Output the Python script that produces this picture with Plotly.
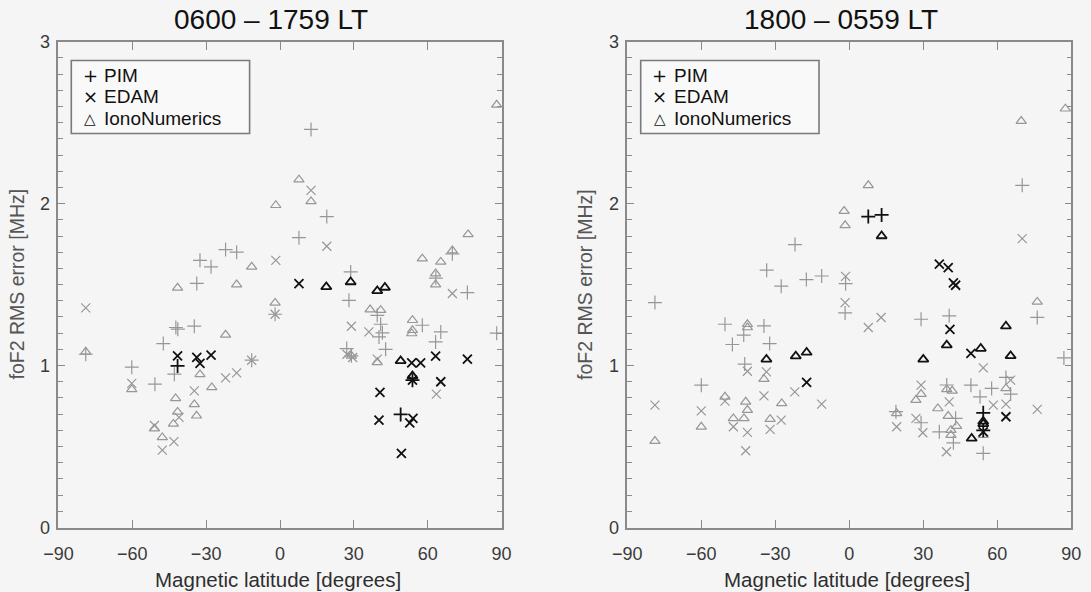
import plotly.graph_objects as go

# ---------------- data: (magnetic latitude [deg], foF2 RMS error [MHz]) ----------------
# Left panel: 0600 - 1759 LT
day_pim_gray_lat = [-78.9, -60.2, -50.8, -47.4, -42.3, -41.5, -42.9, -34.8, -33.8, -32.5, -28.0, -22.1, -17.6, -11.5,
                    -2.0, 7.7, 12.6, 19.0, 28.7, 28.0, 27.1, 29.0, 39.5, 40.9, 41.6, 40.2, 42.9, 57.8, 63.3, 63.2,
                    65.3, 70.0, 76.1, 88.0]
day_pim_gray_err = [1.07, 0.99, 0.885, 1.136, 1.235, 1.225, 0.947, 1.243, 1.507, 1.65, 1.61, 1.716, 1.70, 1.033,
                    1.317, 1.79, 2.458, 1.92, 1.578, 1.403, 1.105, 1.06, 1.31, 1.255, 1.202, 1.177, 1.10, 1.249, 1.54,
                    1.146, 1.208, 1.69, 1.451, 1.20]
day_edam_gray_lat = [-78.9, -60.2, -51.0, -47.8, -43.1, -41.0, -34.8, -22.1, -17.6, -11.5, -2.0, -1.7, 12.6, 19.0,
                     27.2, 29.5, 29.0, 36.1, 39.5, 63.5, 70.0]
day_edam_gray_err = [1.356, 0.89, 0.63, 0.478, 0.53, 0.68, 0.844, 0.924, 0.955, 1.033, 1.317, 1.65, 2.082, 1.737,
                     1.07, 1.05, 1.243, 1.208, 1.04, 0.824, 1.445]
day_iono_gray_lat = [-78.9, -60.2, -51.0, -47.8, -43.3, -42.4, -41.6, -41.6, -34.8, -33.9, -32.5, -27.7, -22.1, -17.6,
                     -11.5, -2.0, -1.7, 7.7, 12.6, 36.6, 40.9, 39.5, 53.8, 53.8, 53.5, 57.8, 63.2, 63.2, 65.3, 70.0,
                     76.4, 88.0, 29.0]
day_iono_gray_err = [1.085, 0.853, 0.61, 0.556, 0.64, 0.797, 0.714, 1.48, 0.76, 0.69, 0.945, 0.865, 1.19, 1.50,
                     1.61, 1.387, 1.99, 2.148, 2.014, 1.346, 1.342, 1.02, 1.28, 1.218, 1.198, 1.66, 1.568, 1.50, 1.64,
                     1.71, 1.81, 2.61, 1.06]
day_pim_black_lat = [-41.6, 49.0, 53.8]
day_pim_black_err = [0.998, 0.698, 0.91]
day_edam_black_lat = [-41.6, -33.8, -32.5, -28.0, 7.7, 53.5, 57.1, 63.2, 76.1, 53.8, 65.3, 40.6, 40.2, 54.0, 52.7, 49.3]
day_edam_black_err = [1.06, 1.05, 1.013, 1.064, 1.506, 1.017, 1.017, 1.058, 1.04, 0.91, 0.90, 0.834, 0.663, 0.674,
                      0.646, 0.458]
day_iono_black_lat = [18.8, 28.7, 39.5, 42.6, 49.0, 53.8]
day_iono_black_err = [1.486, 1.516, 1.461, 1.482, 1.029, 0.935]

# Right panel: 1800 - 0559 LT
night_pim_gray_lat = [-78.8, -60.0, -50.4, -47.4, -42.8, -42.4, -34.6, -33.5, -32.3, -27.6, -22.0, -17.4, -11.2, -1.5,
                      -1.7, 18.9, 29.1, 29.1, 36.5, 40.5, 39.5, 43.1, 42.2, 49.3, 53.0, 57.7, 63.5, 65.4, 54.3, 70.1,
                      76.2, 87.0]
night_pim_gray_err = [1.389, 0.879, 1.255, 1.13, 1.188, 1.009, 1.245, 1.589, 1.136, 1.49, 1.747, 1.531, 1.553, 1.506,
                      1.325, 0.715, 1.286, 0.647, 0.591, 1.307, 0.88, 0.674, 0.523, 0.879, 0.807, 0.859, 0.927, 0.824,
                      0.458, 2.113, 1.297, 1.047]
night_edam_gray_lat = [-78.8, -60.0, -50.4, -47.0, -42.0, -41.3, -41.3, -34.6, -33.6, -32.1, -27.6, -22.1, -11.2, -1.5,
                       -1.7, 7.7, 12.9, 19.2, 27.0, 29.1, 29.8, 39.4, 40.5, 54.3, 58.4, 63.5, 65.4, 70.1, 76.2]
night_edam_gray_err = [0.756, 0.72, 0.78, 0.622, 0.474, 0.587, 0.965, 0.813, 0.961, 0.606, 0.663, 0.838, 0.762, 1.551,
                       1.389, 1.235, 1.297, 0.622, 0.674, 0.879, 0.585, 0.468, 0.776, 0.986, 0.756, 0.762, 0.91,
                       1.784, 0.729]
night_iono_gray_lat = [-78.8, -60.0, -50.4, -47.0, -42.7, -42.0, -41.3, -41.3, -41.3, -34.6, -32.1, -27.4, -2.1, -1.7,
                       7.7, 19.2, 27.0, 29.1, 35.9, 39.5, 41.7, 40.1, 43.5, 41.2, 41.2, 54.3, 63.5, 69.7, 76.2, 87.6]
night_iono_gray_err = [0.534, 0.622, 0.807, 0.674, 0.674, 0.776, 0.725, 1.255, 1.235, 0.916, 0.669, 0.766, 1.954,
                       1.866, 2.113, 0.705, 0.787, 0.824, 0.735, 0.853, 0.844, 0.688, 0.626, 0.601, 0.571, 0.571,
                       0.859, 2.51, 1.393, 2.586]
night_pim_black_lat = [7.7, 13.1, 54.3, 54.3]
night_pim_black_err = [1.92, 1.93, 0.708, 0.60]
night_edam_black_lat = [36.5, 40.1, 42.2, 43.1, 40.8, 49.3, -17.3, 63.5, 54.3]
night_edam_black_err = [1.626, 1.605, 1.51, 1.496, 1.223, 1.075, 0.896, 0.684, 0.59]
night_iono_black_lat = [13.1, -33.6, -21.7, -17.3, 30.0, 39.5, 53.3, 63.5, 65.4, 54.3, 54.3, 49.6]
night_iono_black_err = [1.80, 1.038, 1.058, 1.081, 1.038, 1.126, 1.105, 1.243, 1.06, 0.655, 0.64, 0.55]

panel_titles = ["0600 \u2013 1759 LT", "1800 \u2013 0559 LT"]
series_names = ["PIM", "EDAM", "IonoNumerics"]
legend_glyphs = ["+", "\u00d7", "\u25b3"]

# ---------------- styling ----------------
GRAY = "#979797"
BLACK = "#111111"
AXIS = "#8a8a8a"
FONT = "Liberation Sans, Arial, Helvetica, sans-serif"
symbols = {"PIM": "cross-thin-open", "EDAM": "x-thin-open", "IonoNumerics": "triangle-up-open"}
sizes = {"PIM": 10, "EDAM": 9, "IonoNumerics": 9}

W, H = 1091, 592
y_dom = [1 - 527.5 / H, 1 - 41.7 / H]
x_doms = [[58.4 / W, 501.6 / W], [627.3 / W, 1071.3 / W]]

fig = go.Figure()

panels = [
    ("x", "y",
     {"PIM": (day_pim_gray_lat, day_pim_gray_err, day_pim_black_lat, day_pim_black_err),
      "EDAM": (day_edam_gray_lat, day_edam_gray_err, day_edam_black_lat, day_edam_black_err),
      "IonoNumerics": (day_iono_gray_lat, day_iono_gray_err, day_iono_black_lat, day_iono_black_err)}),
    ("x2", "y2",
     {"PIM": (night_pim_gray_lat, night_pim_gray_err, night_pim_black_lat, night_pim_black_err),
      "EDAM": (night_edam_gray_lat, night_edam_gray_err, night_edam_black_lat, night_edam_black_err),
      "IonoNumerics": (night_iono_gray_lat, night_iono_gray_err, night_iono_black_lat, night_iono_black_err)}),
]

for xa, ya, data in panels:
    for name in series_names:
        glat, gerr, blat, berr = data[name]
        fig.add_trace(go.Scatter(
            x=glat, y=gerr, mode="markers", xaxis=xa, yaxis=ya, showlegend=False, name=name,
            marker=dict(symbol=symbols[name], size=sizes[name], color=GRAY,
                        line=dict(color=GRAY, width=1.2))))
    for name in series_names:
        glat, gerr, blat, berr = data[name]
        fig.add_trace(go.Scatter(
            x=blat, y=berr, mode="markers", xaxis=xa, yaxis=ya, showlegend=False, name=name,
            marker=dict(symbol=symbols[name], size=sizes[name], color=BLACK,
                        line=dict(color=BLACK, width=1.8))))

axis_common = dict(showgrid=False, zeroline=False, showline=True, linecolor=AXIS, linewidth=1.6,
                   mirror="ticks", ticks="inside", tickcolor=AXIS, tickwidth=1.2, automargin=False,
                   tickfont=dict(family=FONT, size=18, color="#3a3a3a"))

for i, (xa, ya) in enumerate([("xaxis", "yaxis"), ("xaxis2", "yaxis2")]):
    xkey = "x" if i == 0 else "x2"
    ykey = "y" if i == 0 else "y2"
    fig.layout[xa] = dict(axis_common, domain=x_doms[i], range=[-90, 90], tick0=0, dtick=30,
                          ticklen=8, anchor=ykey, ticklabelstandoff=9)
    fig.layout[ya] = dict(axis_common, domain=y_dom, range=[0, 3], tick0=0, dtick=1, ticklen=7,
                          anchor=xkey, ticklabelstandoff=3,
                          minor=dict(dtick=0.1, tick0=0, ticks="inside", ticklen=5,
                                     tickcolor=AXIS, tickwidth=1.1))

annotations = []
shapes = []
centers = [(x_doms[0][0] + x_doms[0][1]) / 2, (x_doms[1][0] + x_doms[1][1]) / 2]
for i, t in enumerate(panel_titles):
    annotations.append(dict(text=t, x=centers[i] - 0.008, y=1 - 20 / H, xref="paper", yref="paper",
                            showarrow=False, font=dict(family=FONT, size=28, color="#111111", weight="normal"),
                            xanchor="center", yanchor="middle"))
    annotations.append(dict(text="Magnetic latitude [degrees]", x=centers[i] - 0.002, y=1 - 579 / H,
                            xref="paper", yref="paper", showarrow=False,
                            font=dict(family=FONT, size=20.5, color="#2e2e2e"),
                            xanchor="center", yanchor="middle"))
y_title_x = [16.5 / W, 585 / W]
for i in range(2):
    annotations.append(dict(text="foF2 RMS error [MHz]", x=y_title_x[i], y=1 - 284 / H,
                            xref="paper", yref="paper", showarrow=False, textangle=-90,
                            font=dict(family=FONT, size=19.5, color="#555555"),
                            xanchor="center", yanchor="middle"))

# legend boxes (symbol glyph + series name), one inside each panel
legend_boxes = [(71.3, 60.5, 249.6, 133.5), (640.7, 60.5, 819.0, 133.5)]
row_y = [75.0, 97.0, 119.0]
for (x0, y0, x1, y1) in legend_boxes:
    shapes.append(dict(type="rect", xref="paper", yref="paper", x0=x0 / W, x1=x1 / W,
                       y0=1 - y1 / H, y1=1 - y0 / H, line=dict(color="#7a7a7a", width=1.6),
                       fillcolor="rgba(250,250,250,0.9)", layer="above"))
    for r, (glyph, name) in enumerate(zip(legend_glyphs, series_names)):
        annotations.append(dict(text=glyph, x=(x0 + 19) / W, y=1 - row_y[r] / H, xref="paper", yref="paper",
                                showarrow=False, xanchor="center", yanchor="middle",
                                font=dict(family="DejaVu Sans, " + FONT, size=15 if r == 2 else 18,
                                          color="#111111")))
        annotations.append(dict(text=name, x=(x0 + 31) / W, y=1 - row_y[r] / H, xref="paper", yref="paper",
                                showarrow=False, xanchor="left", yanchor="middle",
                                font=dict(family=FONT, size=19, color="#111111")))

fig.update_layout(
    width=W, height=H,
    margin=dict(l=0, r=0, t=0, b=0, autoexpand=False),
    paper_bgcolor="#f5f5f5", plot_bgcolor="#f5f5f5",
    annotations=annotations, shapes=shapes,
    showlegend=False,
    font=dict(family=FONT),
)

fig.write_html("out.html")
